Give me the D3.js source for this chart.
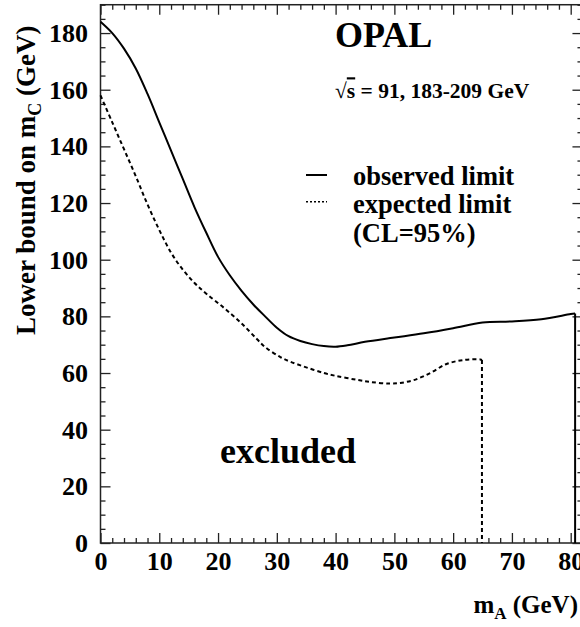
<!DOCTYPE html>
<html>
<head>
<meta charset="utf-8">
<script src="https://cdn.jsdelivr.net/npm/d3@7"></script>
<style>
  body { margin: 0; background: #fff; }
  svg text { font-family: "Liberation Serif", "DejaVu Serif", serif !important; font-weight: bold; fill: #000; }
</style>
</head>
<body>
<svg id="chart" width="580" height="627" font-family="Liberation Serif, DejaVu Serif, serif"></svg>
<script>
// Axis ticks
const xMajorTicks = [0, 10, 20, 30, 40, 50, 60, 70, 80];
const yMajorTicks = [0, 20, 40, 60, 80, 100, 120, 140, 160, 180];

// Observed 95% CL lower bound on m_C versus m_A (GeV)
const observedMA = [0, 2, 4, 6, 8, 10, 12, 14, 16, 18, 20, 22, 24, 26, 28, 30, 32, 34, 36, 38, 40, 42, 45, 50, 55, 60, 65, 70, 75, 80, 80.75];
const observedMC = [184, 180, 174.5, 167.5, 158.5, 148.5, 138.5, 128.5, 118.5, 109.5, 101, 94.5, 89, 84.2, 80, 76, 73, 71.3, 70.2, 69.5, 69.3, 69.8, 71, 72.5, 74, 75.8, 77.8, 78.2, 79, 80.8, 81];

// Expected 95% CL lower bound
const expectedMA = [0, 2, 4, 6, 8, 10, 12, 14, 16, 18, 21, 24, 26.6, 28, 30.6, 32.3, 35, 38, 40, 43.6, 46, 49.3, 51, 53.3, 56.1, 58.9, 61.8, 64.6, 64.9];
const expectedMC = [158, 148.5, 139, 129.5, 119.5, 110.5, 102.5, 96.5, 91.8, 88, 83, 77.5, 72, 69.2, 65.6, 64, 62, 60, 59, 57.6, 56.8, 56.3, 56.5, 57.5, 60, 63.2, 64.6, 64.8, 64.6];

const svg = d3.select("#chart");
const left = 100.5, bottom = 543;
const pxPerX = (570.7 - left) / 80;
const x = d3.scaleLinear().domain([0, 82]).range([left, left + 82 * pxPerX]);
const y = d3.scaleLinear().domain([0, 190]).range([bottom, bottom - 190 * 2.833]);

const frameColor = "#222";
const serif = "Liberation Serif, DejaVu Serif, serif";

// Frame
svg.append("rect")
  .attr("x", x(0)).attr("y", y(190))
  .attr("width", x(82) - x(0)).attr("height", y(0) - y(190))
  .attr("fill", "none").attr("stroke", frameColor).attr("stroke-width", 1.5);

const xMinor = d3.range(0, 82.01, 2).filter(v => v % 10 !== 0);
const yMinor = d3.range(0, 190.01, 5).filter(v => v % 20 !== 0);

function styleAxis(g) {
  g.attr("font-family", serif);
  g.select(".domain").remove();
  g.selectAll(".tick line").attr("stroke", frameColor).attr("stroke-width", 1.3);
  g.selectAll(".tick text").style("font-size", "26px");
}

// Bottom axis (ticks inward)
svg.append("g").attr("transform", `translate(0,${bottom})`)
  .call(d3.axisBottom(x).tickValues(xMajorTicks).tickSizeInner(-10).tickSizeOuter(0).tickPadding(9).tickFormat(d3.format("d")))
  .call(styleAxis);
svg.append("g").attr("transform", `translate(0,${bottom})`)
  .call(d3.axisBottom(x).tickValues(xMinor).tickSizeInner(-5).tickSizeOuter(0).tickFormat(""))
  .call(styleAxis);

// Top axis
svg.append("g").attr("transform", `translate(0,${y(190)})`)
  .call(d3.axisTop(x).tickValues(xMajorTicks).tickSizeInner(-10).tickSizeOuter(0).tickFormat(""))
  .call(styleAxis);
svg.append("g").attr("transform", `translate(0,${y(190)})`)
  .call(d3.axisTop(x).tickValues(xMinor).tickSizeInner(-5).tickSizeOuter(0).tickFormat(""))
  .call(styleAxis);

// Left axis
svg.append("g").attr("transform", `translate(${left},0)`)
  .call(d3.axisLeft(y).tickValues(yMajorTicks).tickSizeInner(-10).tickSizeOuter(0).tickPadding(12.5).tickFormat(d3.format("d")))
  .call(styleAxis);
svg.append("g").attr("transform", `translate(${left},0)`)
  .call(d3.axisLeft(y).tickValues(yMinor).tickSizeInner(-5).tickSizeOuter(0).tickFormat(""))
  .call(styleAxis);

// Right axis
svg.append("g").attr("transform", `translate(${x(82)},0)`)
  .call(d3.axisRight(y).tickValues(yMajorTicks).tickSizeInner(-10).tickSizeOuter(0).tickFormat(""))
  .call(styleAxis);
svg.append("g").attr("transform", `translate(${x(82)},0)`)
  .call(d3.axisRight(y).tickValues(yMinor).tickSizeInner(-5).tickSizeOuter(0).tickFormat(""))
  .call(styleAxis);

// Limit curves
const curve = d3.line().x(d => x(d[0])).y(d => y(d[1])).curve(d3.curveCatmullRom.alpha(0.5));
const straight = d3.line().x(d => x(d[0])).y(d => y(d[1]));

const obsPts = observedMA.map((m, i) => [m, observedMC[i]]);
const expPts = expectedMA.map((m, i) => [m, expectedMC[i]]);
const obsLast = obsPts[obsPts.length - 1];
const expLast = expPts[expPts.length - 1];

const solidStyle = s => s.attr("fill", "none").attr("stroke", "#000").attr("stroke-width", 2);
const dashStyle = s => s.attr("fill", "none").attr("stroke", "#000").attr("stroke-width", 2).attr("stroke-dasharray", "4,3");

svg.append("path").attr("d", curve(obsPts)).call(solidStyle);
svg.append("path").attr("d", straight([obsLast, [obsLast[0], 0]])).call(solidStyle);
svg.append("path").attr("d", curve(expPts)).call(dashStyle);
svg.append("path").attr("d", straight([expLast, [expLast[0], 0]])).call(dashStyle);

// Texts
svg.append("text").attr("x", 335).attr("y", 46.7).style("font-size", "36px").text("OPAL");

const rs = svg.append("text").attr("x", 335).attr("y", 98.3).style("font-size", "21.5px");
rs.append("tspan").text("\u221A");
rs.append("tspan").style("text-decoration", "overline").text("s");
rs.append("tspan").text(" = 91, 183-209 GeV");

// Legend
svg.append("line").attr("x1", 306).attr("x2", 327).attr("y1", 175).attr("y2", 175).call(solidStyle);
svg.append("line").attr("x1", 306).attr("x2", 327).attr("y1", 201.7).attr("y2", 201.7)
  .attr("stroke", "#000").attr("stroke-width", 1.5).attr("stroke-dasharray", "2,2");
svg.append("text").attr("x", 353).attr("y", 185).style("font-size", "26.5px").text("observed limit");
svg.append("text").attr("x", 353).attr("y", 213.3).style("font-size", "26.5px").text("expected limit");
svg.append("text").attr("x", 353).attr("y", 241.7).style("font-size", "26.5px").text("(CL=95%)");

svg.append("text").attr("x", 220).attr("y", 462.7).style("font-size", "36px").text("excluded");

// Axis titles
const xt = svg.append("text").attr("x", 578).attr("y", 613).attr("text-anchor", "end").style("font-size", "25px");
xt.append("tspan").text("m");
xt.append("tspan").attr("dy", 6).style("font-size", "17px").text("A");
xt.append("tspan").attr("dy", -6).text(" (GeV)");

const yt = svg.append("text").attr("transform", "translate(35,335) rotate(-90)").style("font-size", "27px");
yt.append("tspan").text("Lower bound on m");
yt.append("tspan").attr("dy", 6).style("font-size", "18px").text("C");
yt.append("tspan").attr("dy", -6).text(" (GeV)");
</script>
</body>
</html>
